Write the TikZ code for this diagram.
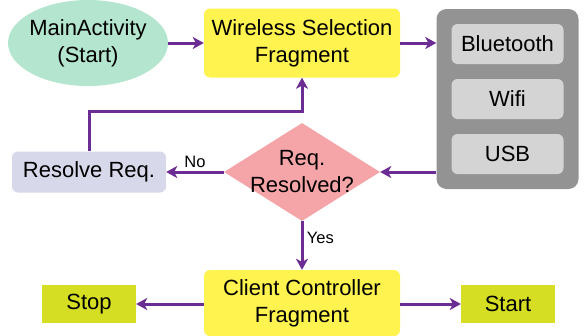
\documentclass[tikz,border=0pt]{standalone}
\usepackage{fontspec}
\setmainfont{Liberation Sans}
\usetikzlibrary{shapes.geometric,arrows.meta}
\definecolor{clmain}{HTML}{B3E5CF}
\definecolor{clfrag}{HTML}{FFF350}
\definecolor{clgrp}{HTML}{939393}
\definecolor{clitem}{HTML}{D4D4D4}
\definecolor{cldec}{HTML}{F5A5A8}
\definecolor{clres}{HTML}{D8D8EB}
\definecolor{clend}{HTML}{D5DE23}
\definecolor{clarr}{HTML}{6B2D93}
\begin{document}
\begin{tikzpicture}[x=1pt, y=-1pt, font=\fontsize{22}{27}\selectfont]
        \tikzstyle{frag} = [rectangle, rounded corners=6pt, fill=clfrag, minimum width=196pt, align=center, inner sep=0pt]
        \tikzstyle{item} = [rectangle, rounded corners=6pt, fill=clitem, minimum width=112pt, minimum height=40pt, inner sep=0pt]
        \tikzstyle{term} = [rectangle, fill=clend, minimum width=94pt, minimum height=38pt, inner sep=0pt]
        \tikzstyle{flow} = [draw=clarr, line width=3pt, -{Stealth[length=11pt, width=12pt, inset=3pt]}]
        \tikzstyle{tag} = [font=\fontsize{16.5}{19}\selectfont, text=black]
    \useasboundingbox (0,0) rectangle (584,335);
    \node[ellipse, fill=clmain, minimum width=160pt, minimum height=86pt, inner sep=-8pt, align=center] (main) at (88,43) {MainActivity\\(Start)};
    \node[frag, minimum height=69pt] (wsf) at (302,43) {Wireless Selection\\Fragment};
    \node[matrix, fill=clgrp, rounded corners=10pt, inner sep=15pt, row sep=15pt] (grp) at (507.5,99)
    {
        \node[item] (bt) {Bluetooth}; \\
        \node[item] (wifi) {Wifi}; \\
        \node[item] (usb) {USB}; \\
    };
    \node[diamond, fill=cldec, aspect=1.6, minimum width=156pt, minimum height=98pt, inner sep=-10pt, align=center] (dec) at (302,172) {Req.\\Resolved?};
    \node[rectangle, rounded corners=6pt, fill=clres, minimum width=154pt, minimum height=41pt, inner sep=0pt] (res) at (89,172) {Resolve Req.};
    \node[frag, minimum height=66pt] (cc) at (302,303) {Client Controller\\Fragment};
    \node[term] (stop) at (89,304) {Stop};
    \node[term] (start) at (508,304) {Start};

    \draw[flow] (main.east |- wsf.west) -- (wsf.west);
    \draw[flow] (wsf.east) -- (wsf.east -| grp.west);
    \draw[flow] (grp.west |- dec.east) -- (dec.east);
    \draw[flow] (dec.west) -- node[tag, above] {No} (res.east);
    \draw[flow] (res.north) -- ++(0,-40) -| (wsf.south);
    \draw[flow] (dec.south) -- node[tag, right, pos=0.35] {Yes} (cc.north);
    \draw[flow] (cc.west |- stop.east) -- (stop.east);
    \draw[flow] (cc.east |- start.west) -- (start.west);
  \end{tikzpicture}
\end{document}
